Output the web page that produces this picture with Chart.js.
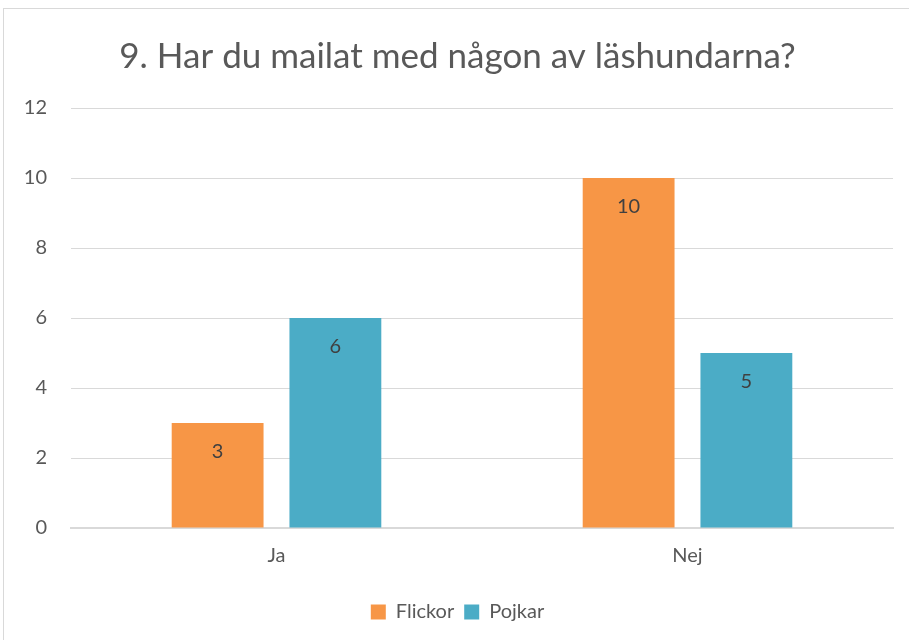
<!DOCTYPE html>
<html>
  <head>
    <script src="https://cdn.jsdelivr.net/npm/chart.js@4.4.1/dist/chart.umd.min.js"></script>
    <style>
      body { margin: 0; background: #fff; overflow: hidden; }
      #frame {
        position: absolute; left: 3px; top: 8px; width: 940px; height: 660px;
        border: 1px solid #d9d9d9;
      }
      #chart { position: absolute; left: 0; top: 0; }
    </style>
  </head>
  <body>
    <div id="frame"></div>
    <canvas id="chart" width="909" height="640"></canvas>
    <script>
      // INPUT DATA

      const categories = ["Ja", "Nej"];
      const flickor = [3, 10];
      const pojkar = [6, 5];
      const yTicks = [0, 2, 4, 6, 8, 10, 12];
      const chartTitle = "9. Har du mailat med någon av läshundarna?";

      // data labels drawn just inside the top of each bar
      const barLabels = {
        id: "barLabels",
        afterDatasetsDraw(chart) {
          const ctx = chart.ctx;
          ctx.save();
          ctx.font = "20px Lato";
          ctx.fillStyle = "#404040";
          ctx.textAlign = "center";
          ctx.textBaseline = "middle";
          chart.data.datasets.forEach(function (ds, i) {
            chart.getDatasetMeta(i).data.forEach(function (bar, j) {
              ctx.fillText(String(ds.data[j]), bar.x, bar.y + 29);
            });
          });
          ctx.restore();
        }
      };

      const ctx = document.getElementById("chart").getContext("2d");
      new Chart(ctx, {
        type: "bar",
        data: {
          labels: categories,
          datasets: [
            { label: "Flickor", data: flickor, backgroundColor: "#f79646" },
            { label: "Pojkar", data: pojkar, backgroundColor: "#4bacc6" }
          ]
        },
        options: {
          responsive: false,
          animation: false,
          categoryPercentage: 0.573,
          barPercentage: 0.78,
          layout: { padding: { left: 22, right: 16, top: 0, bottom: 8 } },
          plugins: {
            title: {
              display: true,
              text: chartTitle,
              color: "#595959",
              font: { family: "Lato", size: 35, weight: "normal" },
              padding: { top: 36, bottom: 30 }
            },
            legend: {
              position: "bottom",
              labels: {
                color: "#595959",
                font: { family: "Lato", size: 20 },
                boxWidth: 15,
                boxHeight: 15,
                padding: 10
              }
            },
            tooltip: { enabled: false }
          },
          scales: {
            x: {
              afterFit: function (scale) { scale.height += 16; },
              grid: { display: false },
              border: { color: "#d9d9d9", width: 2 },
              ticks: {
                color: "#595959",
                font: { family: "Lato", size: 20 },
                padding: 8
              }
            },
            y: {
              min: 0,
              max: 12,
              afterFit: function (scale) { scale.width = 49; },
              afterBuildTicks: function (scale) {
                scale.ticks = yTicks.map(function (v) { return { value: v }; });
              },
              grid: { color: "#d9d9d9", lineWidth: 1, drawTicks: false },
              border: { display: false },
              ticks: {
                color: "#595959",
                font: { family: "Lato", size: 20 },
                padding: 24
              }
            }
          }
        },
        plugins: [barLabels]
      });
    </script>
  </body>
</html>
